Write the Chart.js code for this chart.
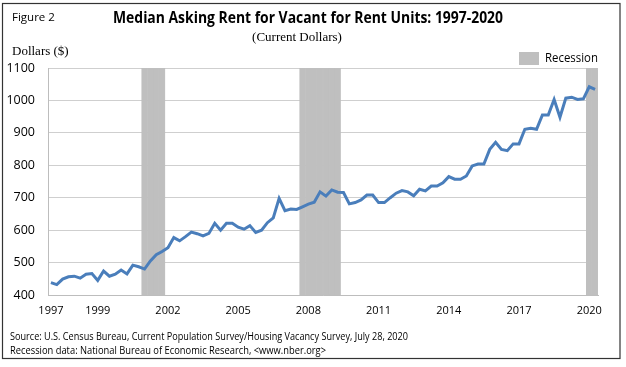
<html>
  <head>
    <script src="https://cdn.jsdelivr.net/npm/chart.js@4.4.1/dist/chart.umd.min.js"></script>
    <style>
      body { margin: 0; background: #fff; }
    </style>
    <script>
      // quarterly data, 1997 Q1 .. 2020 Q2
      var startYear = 1997
      var rentValues = [
        438, 432, 449, 456,   // 1997
        458, 452, 464, 466,   // 1998
        445, 474, 458, 464,   // 1999
        477, 465, 492, 487,   // 2000
        480, 505, 524, 534,   // 2001
        546, 577, 567, 580,   // 2002
        594, 589, 582, 590,   // 2003
        621, 600, 621, 621,   // 2004
        609, 603, 614, 593,   // 2005
        600, 623, 638, 698,   // 2006
        660, 665, 664, 672,   // 2007
        680, 686, 718, 705,   // 2008
        724, 717, 716, 681,   // 2009
        685, 693, 708, 708,   // 2010
        685, 685, 700, 714,   // 2011
        722, 718, 706, 726,   // 2012
        721, 736, 736, 746,   // 2013
        765, 757, 757, 767,   // 2014
        798, 804, 804, 849,   // 2015
        871, 849, 845, 866,   // 2016
        866, 911, 914, 911,   // 2017
        955, 955, 1003, 948,  // 2018
        1007, 1010, 1003, 1005, // 2019
        1042, 1034            // 2020
      ]
      var recessionQuarters = [
        '2001 Q1', '2001 Q2', '2001 Q3', '2001 Q4',
        '2007 Q4', '2008 Q1', '2008 Q2', '2008 Q3', '2008 Q4', '2009 Q1', '2009 Q2',
        '2020 Q1', '2020 Q2'
      ]
      var tickYears = [1997, 1999, 2002, 2005, 2008, 2011, 2014, 2017, 2020]
      var yMin = 400, yMax = 1100

      var quarterLabels = rentValues.map(function (v, i) {
        return (startYear + Math.floor(i / 4)) + ' Q' + (i % 4 + 1)
      })
      var recessionBars = quarterLabels.map(function (q) {
        return recessionQuarters.indexOf(q) >= 0 ? [yMin, yMax] : null
      })

      var sans = "'Open Sans', 'Noto Sans', sans-serif"
      var serif = "'Liberation Serif', 'DejaVu Serif', serif"

      var textPlugin = {
        id: 'texts',
        beforeDraw: function (chart) {
          var ctx = chart.ctx
          ctx.save()
          ctx.fillStyle = '#fff'
          ctx.fillRect(0, 0, chart.width, chart.height)
          ctx.restore()
        },
        afterDraw: function (chart) {
          var ctx = chart.ctx
          ctx.save()
          ctx.fillStyle = '#000'
          ctx.textBaseline = 'middle'
          ctx.textAlign = 'left'
          ctx.font = '11.5px ' + sans
          ctx.fillText('Figure 2', 12, 18, 43)
          ctx.font = 'bold 16px ' + sans
          ctx.fillText('Median Asking Rent for Vacant for Rent Units: 1997-2020', 113, 18, 390)
          ctx.font = '13px ' + serif
          ctx.textAlign = 'center'
          ctx.fillText('(Current Dollars)', 297, 38)
          ctx.textAlign = 'left'
          ctx.fillText('Dollars ($)', 12, 52)
          // legend
          ctx.fillStyle = '#bfbfbf'
          ctx.fillRect(519, 52, 20, 13)
          ctx.fillStyle = '#000'
          ctx.font = '12px ' + sans
          ctx.fillText('Recession', 545, 59, 53)
          // footnotes
          ctx.font = '10.5px ' + sans
          ctx.fillText('Source: U.S. Census Bureau, Current Population Survey/Housing Vacancy Survey, July 28, 2020', 10, 337, 398)
          ctx.fillText('Recession data: National Bureau of Economic Research, <www.nber.org>', 10, 351, 316)
          // frame
          ctx.strokeStyle = '#333'
          ctx.lineWidth = 1.2
          ctx.strokeRect(2.5, 3.5, 617.5, 355)
          ctx.restore()
        }
      }

      function init() {
        new Chart(document.getElementById('rent-chart'), {
          data: {
            labels: quarterLabels,
            datasets: [
              {
                type: 'line',
                label: 'Median asking rent',
                data: rentValues,
                borderColor: '#4a7ebb',
                borderWidth: 3,
                pointRadius: 0,
                tension: 0,
                fill: false,
                order: 0,
              },
              {
                type: 'bar',
                label: 'Recession',
                data: recessionBars,
                backgroundColor: '#bfbfbf',
                borderColor: '#bfbfbf',
                borderWidth: 0.6,
                borderSkipped: false,
                barPercentage: 1,
                categoryPercentage: 1,
                order: 1,
              },
            ],
          },
          options: {
            responsive: false,
            animation: false,
            devicePixelRatio: 1,
            layout: { padding: { left: 0, top: 68, right: 28, bottom: 44 } },
            plugins: {
              legend: { display: false },
              tooltip: { enabled: false },
            },
            scales: {
              x: {
                offset: true,
                grid: { display: false, drawTicks: false },
                border: { display: true, color: '#bdbdbd', width: 1 },
                afterFit: function (s) { s.height = 28 },
                ticks: {
                  autoSkip: false,
                  maxRotation: 0,
                  padding: 9,
                  color: '#000',
                  font: { family: sans, size: 11 },
                  callback: function (v, i) {
                    var y = startYear + Math.floor(i / 4)
                    return (i % 4 === 0 && tickYears.indexOf(y) >= 0) ? String(y) : ''
                  },
                },
              },
              y: {
                min: yMin,
                max: yMax,
                afterFit: function (s) { s.width = 48 },
                grid: { color: '#cfcfcf', drawTicks: false },
                border: { display: true, color: '#bdbdbd' },
                ticks: {
                  stepSize: 100,
                  padding: 13,
                  color: '#000',
                  font: { family: sans, size: 12.5 },
                  callback: function (v) { return String(v) },
                },
              },
            },
          },
          plugins: [textPlugin],
        })
      }
    </script>
  </head>
  <body onload="init()">
    <canvas id="rent-chart" width="626" height="367"></canvas>
  </body>
</html>
